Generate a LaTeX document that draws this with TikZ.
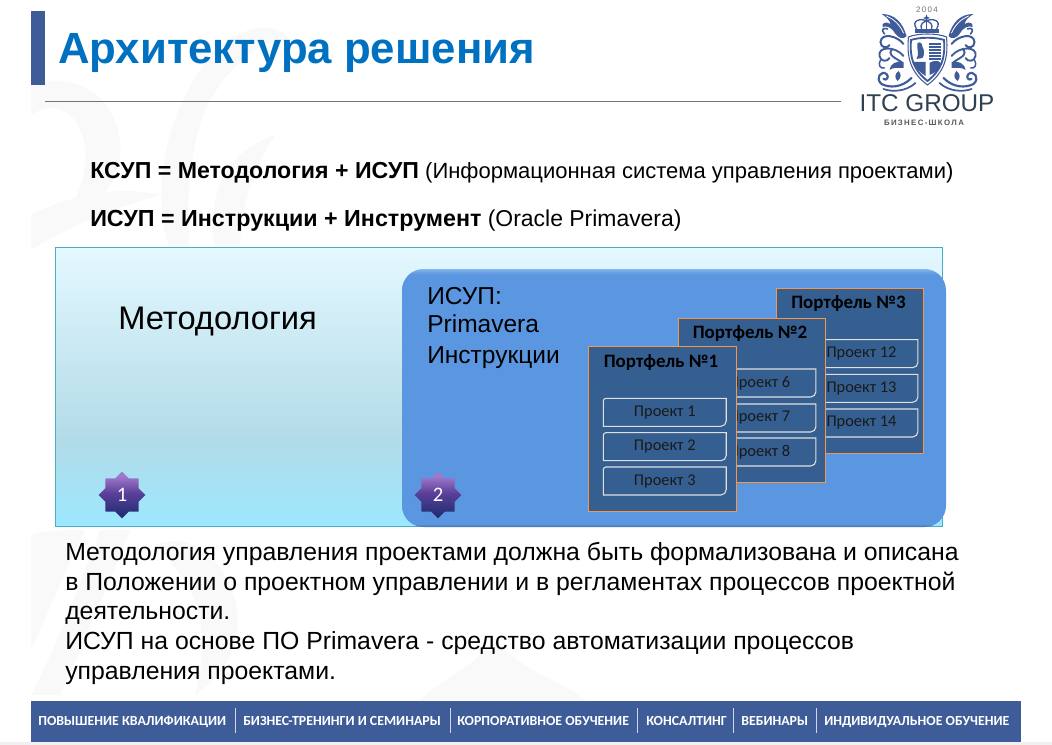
\documentclass[tikz,border=0pt]{standalone}
\usepackage{fontspec}
\setmainfont{Liberation Sans}
\newfontfamily\carl{Carlito}
\usetikzlibrary{shapes.geometric,shapes.misc,calc}
\definecolor{navy}{HTML}{3D5C98}
\definecolor{titleblue}{HTML}{0070C0}
\definecolor{panelblue}{HTML}{5B97E0}
\definecolor{pfblue}{HTML}{355F91}
\definecolor{pforange}{HTML}{F79646}
\definecolor{crest}{HTML}{3F5B9A}
\definecolor{wm}{HTML}{F9F9F9}
\definecolor{itcdark}{HTML}{2F4050}
\definecolor{lbord}{HTML}{4BACC6}
\definecolor{gtop}{HTML}{E4F8FF}
\definecolor{gmid}{HTML}{B2DBE8}
\definecolor{gbot}{HTML}{9CE8FF}
\definecolor{ptop}{HTML}{86B4EC}
\definecolor{pbot}{HTML}{3F6FA8}
\definecolor{stA}{HTML}{A078CC}
\definecolor{stB}{HTML}{5A3F98}
\definecolor{stC}{HTML}{1C2B6E}
\pgfdeclareverticalshading{leftgrad}{100bp}{color(0bp)=(gbot); color(25bp)=(gbot); color(40.5bp)=(gmid); color(75bp)=(gtop); color(100bp)=(gtop)}
\pgfdeclareverticalshading{rightgrad}{100bp}{color(0bp)=(pbot); color(25bp)=(pbot); color(25.6bp)=(panelblue); color(74bp)=(panelblue); color(75bp)=(ptop); color(100bp)=(ptop)}
\pgfdeclareverticalshading{stargrad}{100bp}{color(0bp)=(stC); color(25bp)=(stC); color(52bp)=(stB); color(70bp)=(stA); color(75bp)=(stA); color(100bp)=(stA)}
\tikzset{
  x=0.75pt,y=-0.75pt,
  pf/.style={draw=pforange,line width=0.8pt,fill=pfblue,minimum width=110.5pt,minimum height=123.5pt,anchor=north west,inner sep=0pt},
  pft/.style={font=\carl\bfseries\fontsize{14.2}{16}\selectfont,text=black,anchor=base,inner sep=0pt},
  prj/.style={minimum width=91.8pt,minimum height=20.6pt,inner sep=0pt,anchor=north west,
     font=\carl\fontsize{12.3}{14}\selectfont,text=black!90},
  prjline/.style={draw=white!88!black,line width=0.8pt},
  foot/.style={font=\carl\bfseries\fontsize{10.4}{12}\selectfont,text=white,anchor=base west,inner sep=0pt},
  body/.style={font=\fontsize{18.6}{20}\selectfont,anchor=base west,inner sep=0pt},
  head/.style={font=\fontsize{16.5}{20}\selectfont,anchor=base west,inner sep=0pt},
  big/.style={font=\fontsize{18.4}{20}\selectfont,anchor=base west,inner sep=0pt},
  badge/.style={star,star points=8,star point ratio=1.3,minimum size=35pt,inner sep=0pt,draw=none,
     shading=stargrad,text=white,font=\carl\fontsize{15.5}{18}\selectfont},
  orn/.style={draw=crest,line width=1.1pt,line cap=round,fill=none},
  leaf/.style={fill=crest,draw=none},
  wmk/.style={fill=wm,draw=none},
}
\newcommand{\prjbox}[1]{\draw[prjline] (#1.west) [rounded corners=2pt] -- (#1.north west) [sharp corners] -- (#1.north east) -- (#1.east) [rounded corners=4pt] -- (#1.south east) [sharp corners] -- (#1.south west) -- cycle;}
\begin{document}
\begin{tikzpicture}
\useasboundingbox (0,0) rectangle (1052,745);
\fill[white] (0,0) rectangle (1052,745);
% watermark: faint leaf ornament
\begin{scope}
\clip (31,0) rectangle (1021,700);
\fill[wmk] (31,85) .. controls (80,70) and (125,100) .. (120,160) .. controls (112,190) and (90,215) .. (60,225) .. controls (85,190) and (95,150) .. (75,120) .. controls (62,105) and (45,105) .. (31,115) -- cycle;
\fill[wmk] (170,250) .. controls (150,190) and (165,110) .. (215,50) .. controls (245,25) and (275,20) .. (290,40) .. controls (255,40) and (225,70) .. (205,110) .. controls (190,150) and (185,200) .. (190,250) -- cycle;
\fill[wmk] (215,250) .. controls (205,190) and (230,150) .. (275,135) .. controls (255,165) and (240,205) .. (240,250) -- cycle;
\fill[wmk] (31,215) .. controls (70,195) and (120,185) .. (160,195) .. controls (125,205) and (80,220) .. (31,250) -- cycle;
\fill[wmk] (31,535) .. controls (50,530) and (70,530) .. (85,530) .. controls (65,570) and (45,620) .. (31,650) -- cycle;
\fill[wmk] (100,530) .. controls (85,570) and (60,640) .. (31,695) -- (60,695) .. controls (85,640) and (110,580) .. (130,530) -- cycle;
\fill[wmk] (155,545) .. controls (190,530) and (225,560) .. (235,600) .. controls (245,640) and (225,675) .. (195,695) .. controls (205,660) and (205,620) .. (190,590) .. controls (178,568) and (165,555) .. (155,545) -- cycle;
\fill[wmk] (420,700) .. controls (440,680) and (470,670) .. (495,640) .. controls (520,670) and (560,680) .. (585,700) -- cycle;
\end{scope}
% title
\fill[navy] (31,11) rectangle (45,85);
\node[anchor=base west,inner sep=0pt,font=\bfseries\fontsize{32.8}{36}\selectfont,text=titleblue] (title) at (58,64) {Архитектура решения};
\coordinate (ruleA) at (45,101.5);
\coordinate (ruleB) at (841,101.5);
\draw[black!55,line width=0.75pt] (ruleA) -- (ruleB);
% logo
\node[anchor=base,inner sep=0pt,font=\fontsize{6}{7}\selectfont,text=black!55] (yr) at (927,13) {2\,0\,0\,4};
\begin{scope}[shift={(927.5,0)}]
\fill[crest] (-1,14.5) -- (0,17) -- (2.5,18) -- (0,19) -- (-1,21.5) -- (-2,19) -- (-4.5,18) -- (-2,17) -- cycle;
% crown
\draw[orn,line width=1pt] (-11,29) .. controls (-17,20) and (-6,18) .. (-1,21) .. controls (4,18) and (15,20) .. (9,29);
\draw[orn,line width=1pt] (-6,29) .. controls (-8,24) and (-4,22) .. (-1,21) .. controls (2,22) and (6,24) .. (4,29);
\draw[orn,line width=0.8pt] (-1,21) -- (-1,29);
\fill[crest] (-13,29) rectangle (11,33);
% shield
\draw[orn,line width=0.8pt,fill=white] (-19,37) .. controls (-10,33) and (10,33) .. (19,37) .. controls (21,58) and (17,72) .. (0,85) .. controls (-17,72) and (-21,58) .. (-19,37) -- cycle;
\draw[orn,line width=1.4pt] (-16.5,40) .. controls (-8,37) and (8,37) .. (16.5,40) .. controls (18,58) and (14,70) .. (0,81) .. controls (-14,70) and (-18,58) .. (-16.5,40) -- cycle;
\fill[crest] (-10,43) .. controls (-7,41) and (-5,44) .. (-5,47) .. controls (-3,50) and (-3,55) .. (-5,58) -- (-11,59) .. controls (-8,55) and (-11,48) .. (-10,43) -- cycle;
\foreach \yy in {43,46,49,52,55,58}{\fill[crest] (1.5,\yy) rectangle (13,\yy+1.6);}
\fill[crest] (-14,62) -- (-2,62) -- (-2,76) .. controls (-8,72) and (-13,67) .. (-14,62) -- cycle;
\fill[crest] (2,63) .. controls (8,59) and (14,61) .. (13.5,65) .. controls (12,70) and (7,73) .. (2,75) -- cycle;
% ornaments on both sides
\foreach \s in {1,-1}{
\begin{scope}[xscale=\s]
 \fill[leaf] (-21,36) .. controls (-25,22) and (-33,14) .. (-46,14) .. controls (-41,17) and (-38,20) .. (-37,24) .. controls (-42,21) and (-46,23) .. (-45,27) .. controls (-41,25) and (-35,28) .. (-32,34) .. controls (-29,38) and (-24,40) .. (-21,36) -- cycle;
 \draw[orn,draw=white,line width=0.6pt] (-24,33) .. controls (-28,24) and (-34,19) .. (-41,16);
 \draw[orn,line width=1.5pt] (-24,44) .. controls (-30,36) and (-46,32) .. (-47,42) .. controls (-47,48) and (-40,49) .. (-38,45);
 \draw[orn,line width=1.4pt] (-24,56) .. controls (-32,46) and (-50,46) .. (-48,56) .. controls (-47,62) and (-40,62) .. (-38,58);
 \draw[orn,line width=1.4pt] (-26,62) .. controls (-36,56) and (-40,54) .. (-35,49);
 \fill[leaf] (-24,62) .. controls (-30,60) and (-38,64) .. (-38,70) .. controls (-34,67) and (-30,68) .. (-24,68) -- cycle;
 \draw[orn,line width=1.6pt] (-16,78) .. controls (-26,88) and (-38,88) .. (-46,84) .. controls (-53,78) and (-46,70) .. (-41,74) .. controls (-38,77) and (-41,81) .. (-44,79);
 \draw[orn,line width=1.3pt] (-12,83) .. controls (-22,92) and (-36,92) .. (-44,89);
 \draw[orn,line width=1.2pt] (-43,34) .. controls (-47,30) and (-44,27) .. (-40,29);
 \draw[orn,line width=1.1pt] (-47,60) .. controls (-50,65) and (-47,69) .. (-43,68);
 \fill[leaf] (-29,71) .. controls (-33,74) and (-33,78) .. (-30,81) .. controls (-26,78) and (-26,74) .. (-29,71) -- cycle;
\end{scope}}
\end{scope}
\node[anchor=base,inner sep=0pt,font=\fontsize{18.2}{20}\selectfont,text=itcdark] (itc) at (927,112) {ITC GROUP};
\node[anchor=base,inner sep=0pt,font=\bfseries\fontsize{5.9}{7}\selectfont,text=black!65] (bs) at (924,125.5) {Б\,И\,З\,Н\,Е\,С\,-\,Ш\,К\,О\,Л\,А};
% headings
\node[head] (h1) at (90,178.5) {{\bfseries\fontsize{17.35}{20}\selectfont КСУП = Методология + ИСУП} (Информационная система управления проектами)};
\node[head,font=\fontsize{17.2}{20}\selectfont] (h2) at (90,226.5) {{\bfseries\fontsize{17.45}{20}\selectfont ИСУП = Инструкции + Инструмент} (Oracle Primavera)};
% panels
\path[shading=leftgrad] (55.5,248) rectangle (942.5,526);
\draw[lbord,line width=0.75pt] (55.5,248) rectangle (942.5,526);
\node[anchor=base west,inner sep=0pt,font=\fontsize{24.5}{28}\selectfont] (meth) at (118,329) {Методология};
\path[rounded corners=16pt,shading=rightgrad] (402,269) rectangle (946,527);
\node[big] (is1) at (427,304.5) {ИСУП:};
\node[big] (is2) at (427,332.5) {Primavera};
\node[big] (is3) at (427,363) {Инструкции};
% portfolio 3
\node[pf] (p3) at (775.5,288) {};
\node[pft] (p3t) at (848.5,308.5) {Портфель №3};
\node[prj] (a12) at (795,339.7) {\hspace*{7.5pt}Проект 12};
\node[prj] (a13) at (795,374.3) {\hspace*{7.5pt}Проект 13};
\node[prj] (a14) at (795,409) {\hspace*{7.5pt}Проект 14};
\prjbox{a12}\prjbox{a13}\prjbox{a14}
% portfolio 2
\node[pf] (p2) at (677.5,317.5) {};
\node[pft] (p2t) at (750,338) {Портфель №2};
\node[prj] (a6) at (693,369) {\hspace*{7.5pt}Проект 6};
\node[prj] (a7) at (693,404) {\hspace*{7.5pt}Проект 7};
\node[prj] (a8) at (693,438) {\hspace*{7.5pt}Проект 8};
\prjbox{a6}\prjbox{a7}\prjbox{a8}
% portfolio 1
\node[pf] (p1) at (588.3,346.3) {};
\node[pft] (p1t) at (661,367) {Портфель №1};
\node[prj] (a1) at (603.3,398.3) {Проект 1};
\node[prj] (a2) at (603.3,432.7) {Проект 2};
\node[prj] (a3) at (603.3,467) {Проект 3};
\prjbox{a1}\prjbox{a2}\prjbox{a3}
% badges
\node[badge] (b1) at (122,495) {1};
\node[badge] (b2) at (438,495) {2};
% body
\node[body] (t1) at (65,560) {Методология управления проектами должна быть формализована и описана};
\node[body] (t2) at (65,590) {в Положении о проектном управлении и в регламентах процессов проектной};
\node[body] (t3) at (65,619) {деятельности.};
\node[body] (t4) at (65,649) {ИСУП на основе ПО Primavera - средство автоматизации процессов};
\node[body] (t5) at (65,679) {управления проектами.};
% footer
\fill[black!6] (0,742) rectangle (1052,745);
\fill[navy] (31,700.5) rectangle (1021,742);
\node[foot] (f1) at (38,725) {ПОВЫШЕНИЕ КВАЛИФИКАЦИИ};
\node[foot] (f2) at (243,725) {БИЗНЕС-ТРЕНИНГИ И СЕМИНАРЫ};
\node[foot] (f3) at (457,725) {КОРПОРАТИВНОЕ ОБУЧЕНИЕ};
\node[foot] (f4) at (646,725) {КОНСАЛТИНГ};
\node[foot] (f5) at (741,725) {ВЕБИНАРЫ};
\node[foot] (f6) at (824,725) {ИНДИВИДУАЛЬНОЕ ОБУЧЕНИЕ};
\foreach \xx in {235,450,637.5,733,816.5}{\draw[white!75!navy,line width=0.5pt] (\xx,708) -- (\xx,733);}
\end{tikzpicture}
\end{document}
